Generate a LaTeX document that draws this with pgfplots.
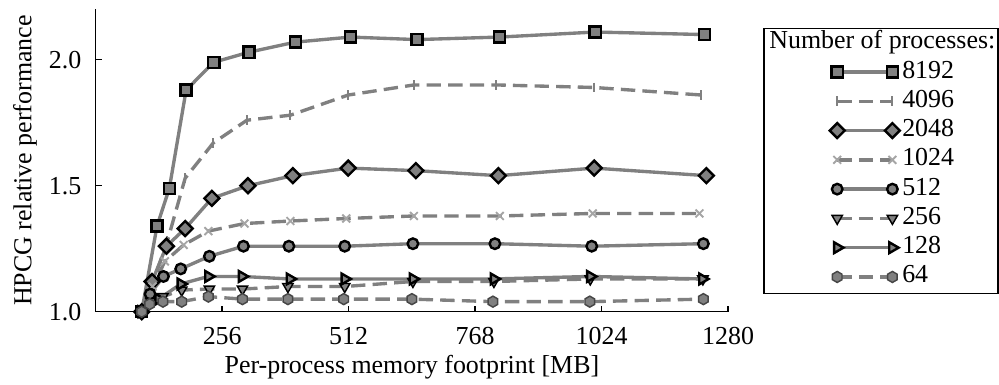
\documentclass[border=0pt]{standalone}
\usepackage{fontspec}
\setmainfont{Liberation Serif}
\usepackage{pgfplots}
\pgfplotsset{compat=1.18}
\usetikzlibrary{plotmarks}
\definecolor{lg}{RGB}{128,128,128}
\definecolor{xg}{RGB}{165,165,165}
\definecolor{dg}{RGB}{70,70,70}
\pgfdeclareplotmark{hexagon*}{%
  \pgfpathmoveto{\pgfqpointpolar{90}{\pgfplotmarksize}}%
  \pgfpathlineto{\pgfqpointpolar{150}{\pgfplotmarksize}}%
  \pgfpathlineto{\pgfqpointpolar{210}{\pgfplotmarksize}}%
  \pgfpathlineto{\pgfqpointpolar{270}{\pgfplotmarksize}}%
  \pgfpathlineto{\pgfqpointpolar{330}{\pgfplotmarksize}}%
  \pgfpathlineto{\pgfqpointpolar{30}{\pgfplotmarksize}}%
  \pgfpathclose\pgfusepathqfillstroke}
\newcommand\ff{\fontsize{10.8}{13}\selectfont}
\begin{document}
\begin{tikzpicture}
\begin{axis}[
  scale only axis, width=263.5pt, height=126pt,
  at={(0pt,0pt)}, anchor=south west,
  xmin=0, xmax=1280, ymin=1, ymax=2.2,
  axis x line*=bottom, axis y line*=left,
  xtick={256,512,768,1024,1280}, ytick={1,1.5,2},
  yticklabel style={/pgf/number format/fixed, /pgf/number format/fixed zerofill, /pgf/number format/precision=1, xshift=-2.5pt},
  xticklabel style={/pgf/number format/1000 sep={}, yshift=-3pt},
  /pgf/number format/assume math mode=true,
  ticklabel style={font=\ff},
  tick align=inside, major tick length=2.5pt,
  tick style={black, line width=0.6pt},
  axis line style={black, line width=0.6pt},
  xlabel={Per-process memory footprint [MB]},
  ylabel={HPCG relative performance},
  every axis x label/.style={at={(axis description cs:0.5,0)}, anchor=center, yshift=-23.2pt, font=\ff},
  every axis y label/.style={at={(axis description cs:0,0.5)}, xshift=-29.5pt, rotate=90, anchor=center, font=\ff},
  clip=false,
  legend image code/.code={\draw[#1] plot coordinates {(0pt,0pt) (23pt,0pt)};},
  legend style={at={(axis description cs:1.16,0.838)}, anchor=north west, draw=none, fill=none,
    inner sep=0pt, row sep=1.2pt, font=\ff,
    nodes={inner sep=1pt, text height=7pt, text depth=2pt}},
  legend cell align=left,
  every axis plot/.append style={line width=1.4pt, color=lg},
  sol/.style={solid},
  dsh/.style={dash pattern=on 6pt off 3pt},
]
% 8192
\addplot[sol, mark=square*, mark size=2.3pt, mark options={solid, fill=lg, draw=black, line width=1pt}] coordinates {
(93,1.00) (124,1.34) (149,1.49) (183,1.88) (239,1.99) (310,2.03) (404,2.07) (516,2.09) (650,2.08) (817,2.09) (1011,2.11) (1232,2.10)};
\addlegendentry{8192}
% 4096
\addplot[dsh, mark=|, mark size=2pt, mark options={solid, draw=lg, line width=0.8pt}] coordinates {
(93,1.00) (113,1.10) (145,1.28) (181,1.53) (238,1.67) (306,1.76) (394,1.78) (511,1.86) (644,1.90) (811,1.90) (1009,1.89) (1226,1.86)};
\addlegendentry{4096}
% 2048
\addplot[sol, mark=square*, mark size=2.2pt, mark options={solid, rotate=45, fill=lg, draw=black, line width=1pt}] coordinates {
(93,1.00) (114,1.12) (143,1.26) (181,1.33) (235,1.45) (308,1.50) (399,1.54) (511,1.57) (648,1.56) (815,1.54) (1009,1.57) (1236,1.54)};
\addlegendentry{2048}
% 1024
\addplot[dsh, mark=x, mark size=2.3pt, mark options={solid, draw=xg, line width=0.8pt}] coordinates {
(93,1.00) (115,1.10) (140,1.20) (178,1.265) (228,1.32) (301,1.35) (394,1.36) (507,1.37) (644,1.38) (818,1.38) (1006,1.39) (1222,1.39)};
\addlegendentry{1024}
% 512
\addplot[sol, mark=*, mark size=2.2pt, mark options={solid, fill=lg, draw=black, line width=1pt}] coordinates {
(93,1.00) (110,1.07) (137,1.14) (172,1.17) (230,1.22) (299,1.26) (391,1.26) (504,1.26) (642,1.27) (808,1.27) (1004,1.26) (1230,1.27)};
\addlegendentry{512}
% 256
\addplot[dsh, mark=triangle*, mark size=2.5pt, mark options={solid, rotate=180, fill=lg, draw=black, line width=0.6pt}] coordinates {
(93,1.00) (112,1.04) (136,1.06) (174,1.086) (230,1.09) (297,1.09) (389,1.10) (504,1.10) (642,1.12) (806,1.12) (1001,1.13) (1229,1.13)};
\addlegendentry{256}
% 128
\addplot[sol, mark=triangle*, mark size=2.6pt, mark options={solid, rotate=-90, fill=lg, draw=black, line width=1pt}] coordinates {
(93,1.00) (127,1.05) (172,1.11) (228,1.14) (296,1.14) (393,1.13) (504,1.13) (642,1.13) (806,1.13) (1001,1.14) (1228,1.13)};
\addlegendentry{128}
% 64
\addplot[dsh, mark=hexagon*, mark size=2.3pt, mark options={solid, fill=lg, draw=dg, line width=0.6pt}] coordinates {
(93,1.00) (109,1.03) (136,1.04) (174,1.04) (228,1.06) (297,1.05) (389,1.05) (502,1.05) (640,1.05) (804,1.04) (1000,1.04) (1230,1.05)};
\addlegendentry{64}
\end{axis}
\draw[black, line width=0.6pt] (278.5pt,7.7pt) rectangle (376pt,118.1pt);
\node[anchor=west, inner sep=0pt, font=\ff] at (280.5pt,112.3pt) {Number of processes:};
\pgfresetboundingbox
\path (-39.9pt,-30.5pt) rectangle (376.4pt,129.9pt);
\end{tikzpicture}
\end{document}
